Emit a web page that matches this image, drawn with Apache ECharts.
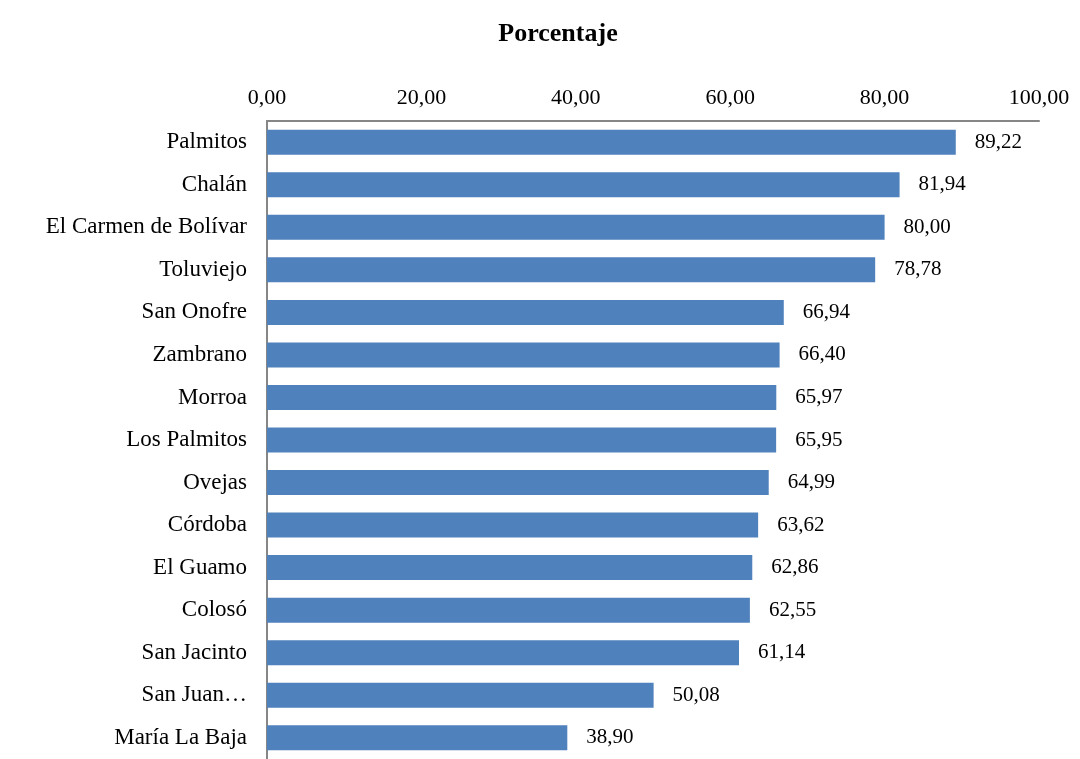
<!DOCTYPE html>
<html>
<head>
<meta charset="utf-8">
<script src="https://cdn.jsdelivr.net/npm/echarts@6/dist/echarts.min.js"></script>
<style>html,body{margin:0;padding:0;background:#fff;}#c{width:1080px;height:759px;}</style>
</head>
<body>
<div id="c"></div>
<script>
const categories = ["Palmitos","Chalán","El Carmen de Bolívar","Toluviejo","San Onofre","Zambrano","Morroa","Los Palmitos","Ovejas","Córdoba","El Guamo","Colosó","San Jacinto","San Juan…","María La Baja"];
const values = [89.22,81.94,80.00,78.78,66.94,66.40,65.97,65.95,64.99,63.62,62.86,62.55,61.14,50.08,38.90];
const xTicks = {min:0, max:100, interval:20};
const fmt = v => Number(v).toFixed(2).replace('.', ',');
const chart = echarts.init(document.getElementById('c'));
const FONT = '"Liberation Serif", "Times New Roman", serif';
chart.setOption({
  animation:false,
  title:{text:'Porcentaje', left:553, top:16, textAlign:'center',
    textStyle:{fontFamily:FONT, fontSize:26, fontWeight:'bold', color:'#000'}},
  grid:{left:267, top:121, width:772, height:643, containLabel:false},
  xAxis:{type:'value', position:'top', min:xTicks.min, max:xTicks.max, interval:xTicks.interval,
    axisLine:{show:true, lineStyle:{color:'#868686', width:2}},
    axisTick:{show:false}, splitLine:{show:false},
    axisLabel:{formatter:fmt, margin:12, fontFamily:FONT, fontSize:22, color:'#000'}},
  yAxis:{type:'category', data:categories, inverse:true,
    axisLine:{show:true, lineStyle:{color:'#868686', width:2}},
    axisTick:{show:false},
    axisLabel:{margin:20, fontFamily:FONT, fontSize:23, color:'#000'}},
  series:[{type:'bar', data:values, barWidth:25,
    itemStyle:{color:'#4F81BD'},
    label:{show:true, position:'right', distance:19, formatter:p=>fmt(p.value),
      fontFamily:FONT, fontSize:21, color:'#000'}}]
});
</script>
</body>
</html>
